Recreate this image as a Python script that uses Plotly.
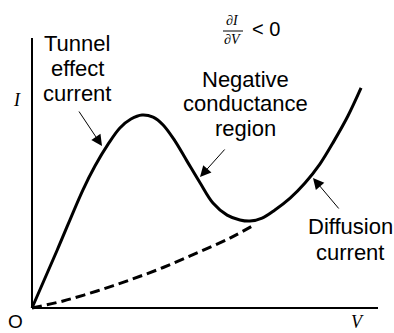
import plotly.graph_objects as go

# Schematic I-V characteristic of a tunnel diode (arbitrary units)
total_v = [0.0, 0.72, 1.47, 1.82, 2.20, 2.54, 2.86, 3.18, 3.50, 3.79, 4.13, 4.48, 4.86,
           5.23, 5.64, 6.01, 6.30, 6.65, 7.02, 7.46, 7.89, 8.32, 8.73, 9.13, 9.51]
total_i = [0.0, 2.12, 4.37, 5.26, 6.07, 6.67, 7.00, 7.15, 7.07, 6.78, 6.19, 5.44, 4.63,
           3.89, 3.44, 3.26, 3.22, 3.33, 3.63, 4.07, 4.63, 5.33, 6.19, 7.11, 8.15]
diff_v = [0.0, 0.90, 1.88, 2.83, 3.79, 4.77, 5.72, 6.47]
diff_i = [0.0, 0.26, 0.63, 1.04, 1.50, 2.04, 2.59, 3.11]

W, H = 394, 333
OX, OY = 32, 308          # pixel position of origin
SX, SY = 34.6, 27.0       # pixels per unit


def px(x, y):
    return (x - OX) / SX, (OY - y) / SY


fig = go.Figure()
fig.add_trace(go.Scatter(x=diff_v, y=diff_i, mode="lines",
                         line=dict(color="black", width=3, dash="10px,5px", shape="spline"),
                         hoverinfo="skip"))
fig.add_trace(go.Scatter(x=total_v, y=total_i, mode="lines",
                         line=dict(color="black", width=3, shape="spline", smoothing=1),
                         hoverinfo="skip"))

# axes
fig.add_shape(type="line", x0=0, y0=0, x1=10, y1=0, line=dict(color="black", width=2))
fig.add_shape(type="line", x0=0, y0=0, x1=0, y1=10, line=dict(color="black", width=2))

sans = "Liberation Sans, Arial, sans-serif"
serif = "Liberation Serif, Times New Roman, serif"
ann = []


def text(x, y, t, size=22, family=sans, xanchor="center"):
    X, Y = px(x, y)
    ann.append(dict(x=X, y=Y, text=t, showarrow=False, xanchor=xanchor, yanchor="middle",
                    font=dict(family=family, size=size, color="black")))


def arrow(hx, hy, tx, ty):
    X, Y = px(hx, hy)
    AX, AY = px(tx, ty)
    ann.append(dict(x=X, y=Y, ax=AX, ay=AY, axref="x", ayref="y", text="", showarrow=True,
                    arrowhead=2, arrowsize=2.2, arrowwidth=1, arrowcolor="black", standoff=0))


for t, y in [("Tunnel", 43), ("effect", 68), ("current", 93)]:
    text(77, y, t)
for t, y in [("Negative", 79), ("conductance", 103.5), ("region", 128)]:
    text(245, y, t)
for t, y in [("Diffusion", 226), ("current", 252)]:
    text(350, y, t)

text(17, 100, "<i>I</i>", size=18, family=serif)
text(15, 321, "O", size=19)
text(357, 322, "<i>V</i>", size=18, family=serif)
text(232, 20, "∂<i>I</i>", size=14, family=serif)
text(232, 39.5, "∂<i>V</i>", size=14, family=serif)
text(266, 29, "&lt; 0", size=20)

bx0, by = px(223, 31)
bx1, _ = px(243, 31)
fig.add_shape(type="line", x0=bx0, y0=by, x1=bx1, y1=by, line=dict(color="black", width=1))

arrow(102, 146, 78, 110)
arrow(200, 177, 226, 148)
arrow(313, 178, 340, 210)

xr = [px(0, 0)[0], px(W, 0)[0]]
yr = [px(0, H)[1], px(0, 0)[1]]
fig.update_layout(
    width=W, height=H, margin=dict(l=0, r=0, t=0, b=0),
    paper_bgcolor="white", plot_bgcolor="white", showlegend=False,
    xaxis=dict(range=xr, visible=False, fixedrange=True),
    yaxis=dict(range=yr, visible=False, fixedrange=True),
    annotations=ann,
)
fig.write_html("out.html", config={"displayModeBar": False},
               post_script="document.body.style.margin='0';document.body.style.padding='0';")
